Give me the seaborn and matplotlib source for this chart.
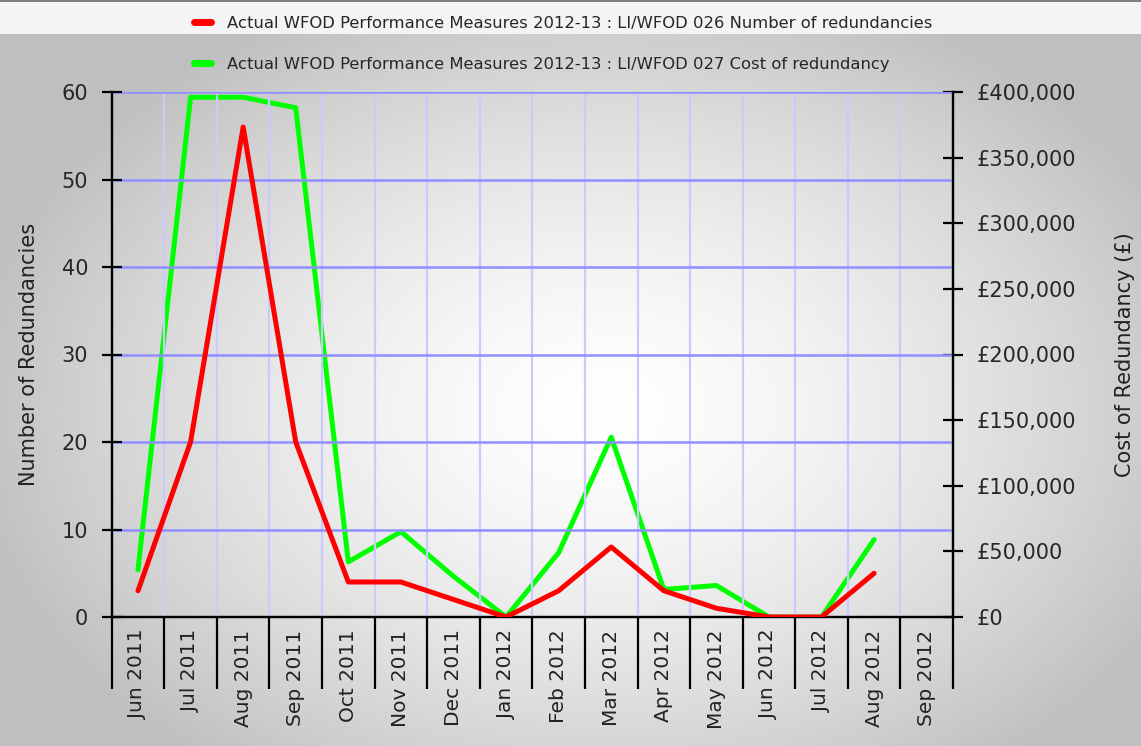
import numpy as np
import pandas as pd
import matplotlib
matplotlib.use("Agg")
import matplotlib.pyplot as plt
from matplotlib.ticker import FuncFormatter, MultipleLocator, FixedLocator
from matplotlib.lines import Line2D
import seaborn as sns

months = ["Jun 2011", "Jul 2011", "Aug 2011", "Sep 2011", "Oct 2011", "Nov 2011",
          "Dec 2011", "Jan 2012", "Feb 2012", "Mar 2012", "Apr 2012", "May 2012",
          "Jun 2012", "Jul 2012", "Aug 2012", "Sep 2012"]
redundancies = [3, 20, 56, 20, 4, 4, 2, 0, 3, 8, 3, 1, 0, 0, 5, np.nan]
cost = [36000, 396000, 396000, 388000, 42000, 65000, 31000, 0, 49000, 137000,
        21000, 24000, 0, 0, 59000, np.nan]
label_num = "Actual WFOD Performance Measures 2012-13 : LI/WFOD 026 Number of redundancies"
label_cost = "Actual WFOD Performance Measures 2012-13 : LI/WFOD 027 Cost of redundancy"

sns.set_theme(style="white")
plt.rcParams["font.family"] = ["DejaVu Sans"]

W, H = 1141, 746
fig = plt.figure(figsize=(W / 100, H / 100), dpi=100)

# background gradient
yy, xx = np.mgrid[0:H, 0:W]
r = np.sqrt(((xx - 600) / 640.0) ** 2 + ((yy - 410) / 450.0) ** 2)
v = 1.0 - 0.25 * np.clip(r, 0, 1) ** 1.5
img = np.dstack([v, v, v])
img[2:34, :, :] = np.array([0.96, 0.957, 0.97])
img[0:2, :, :] = 0.5
bg = fig.add_axes([0, 0, 1, 1], zorder=0)
bg.imshow(img, aspect="auto", extent=(0, W, H, 0))
bg.axis("off")

left, right, top, bottom = 111.7, 953, 92, 617
ax = fig.add_axes([left / W, 1 - bottom / H, (right - left) / W, (bottom - top) / H], zorder=1)
ax.patch.set_alpha(0)
x = np.arange(len(months))
df = pd.DataFrame({"pos": x, "month": months, "num": redundancies, "cost": cost})

sns.lineplot(data=df, x="pos", y="num", ax=ax, color="#ff0000", linewidth=3.6, zorder=5)
ax2 = ax.twinx()
ax2.patch.set_alpha(0)
sns.lineplot(data=df, x="pos", y="cost", ax=ax2, color="#00ff00", linewidth=3.6, zorder=4)
ax.set_zorder(2)
ax2.set_zorder(1)
ax.patch.set_visible(False)

ax.set_xlim(-0.5, len(months) - 0.5)
ax.set_ylim(0, 60)
ax2.set_ylim(0, 400000)

ax.set_xticks(x)
ax.set_xticklabels(months, rotation=90, fontsize=14.5, color="#222222")
ax.xaxis.set_minor_locator(FixedLocator(np.arange(-0.5, len(months), 1.0)))
ax.tick_params(axis="x", which="major", length=0, pad=9, bottom=True)
ax.tick_params(axis="x", which="minor", length=52, width=1.6, color="black",
               direction="out", bottom=True)
ax.yaxis.set_major_locator(MultipleLocator(10))
ax.tick_params(axis="y", which="major", direction="inout", length=14, width=1.6, color="black",
               labelsize=15, pad=10, left=True)
ax2.yaxis.set_major_locator(MultipleLocator(50000))
ax2.yaxis.set_major_formatter(FuncFormatter(lambda val, p: "£{:,.0f}".format(val)))
ax2.tick_params(axis="y", which="major", direction="inout", length=14, width=1.6, color="black",
                labelsize=15, pad=10, right=True)

ax.grid(True, which="major", axis="y", color="#8f8fff", linewidth=1.8)
ax.grid(True, which="minor", axis="x", color="#cacaff", linewidth=1.6)
ax.grid(False, which="major", axis="x")
ax2.grid(False)

for a in (ax, ax2):
    a.spines["top"].set_visible(False)
    for s in ("left", "right", "bottom"):
        a.spines[s].set_color("black")
        a.spines[s].set_linewidth(1.6)

ax.set_xlabel("")
ax.set_ylabel("Number of Redundancies", fontsize=15, color="#222222", labelpad=16)
ax2.set_ylabel("Cost of Redundancy (£)", fontsize=15, color="#222222", labelpad=28)

handles = [Line2D([], [], color="#ff0000", linewidth=5),
           Line2D([], [], color="#00ff00", linewidth=5)]
fig.legend(handles, [label_num, label_cost], loc="upper left",
           bbox_to_anchor=(179 / W, 1 - 1 / H), frameon=False,
           prop={"size": 11.8}, handlelength=1.05,
           handletextpad=0.95, labelspacing=1.6)

fig.savefig("out.png", dpi=100)
